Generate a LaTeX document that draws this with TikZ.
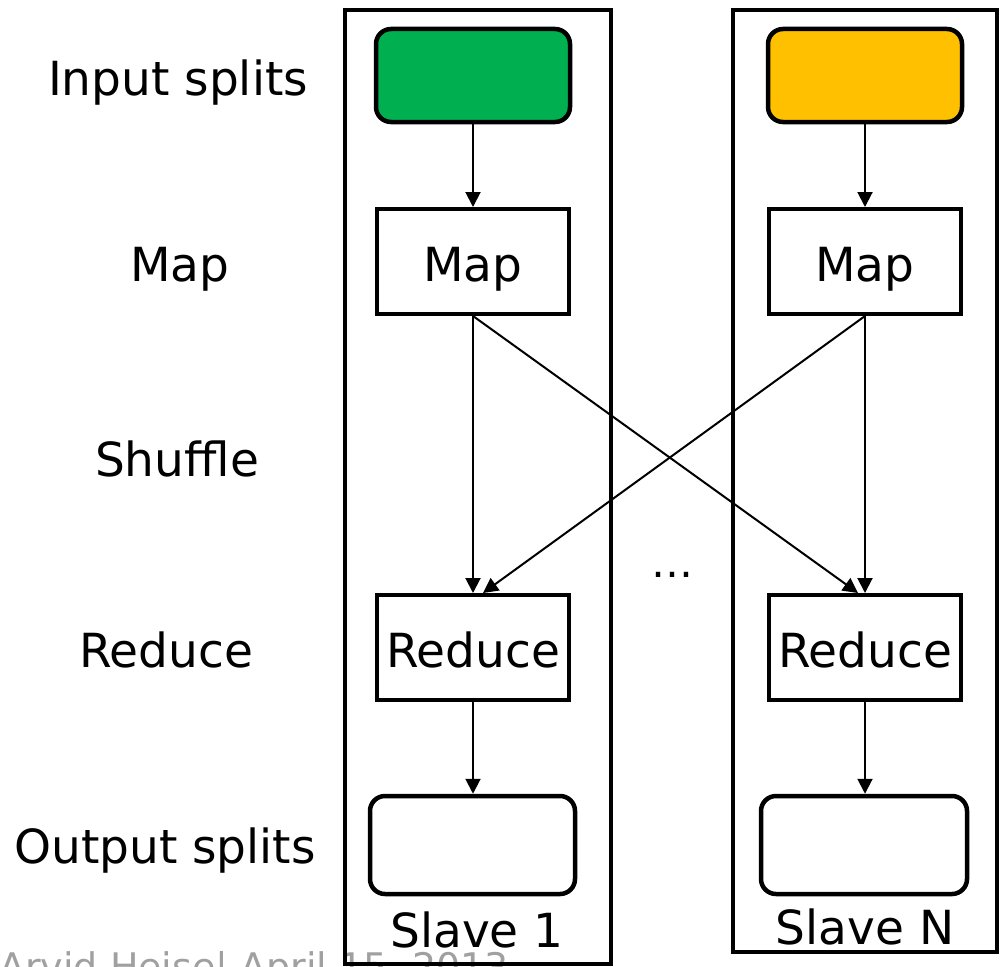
\documentclass[tikz,border=0pt]{standalone}
\usepackage{fontspec}
\setmainfont{DejaVu Sans}
\usetikzlibrary{arrows.meta,calc}

\definecolor{splitgreen}{RGB}{0,176,80}
\definecolor{splityellow}{RGB}{255,192,0}
\definecolor{footergray}{RGB}{160,160,160}

\tikzset{
  big/.style={font=\fontsize{47}{56}\selectfont},
  slavebox/.style={draw, line width=3.5pt, minimum width=266pt, inner sep=0pt},
  splitbox/.style={draw, line width=4.5pt, rounded corners=15pt, inner sep=0pt,
                   minimum width=194pt, minimum height=93pt},
  outbox/.style={draw, line width=4.5pt, rounded corners=15pt, inner sep=0pt,
                 minimum width=205pt, minimum height=98pt},
  taskbox/.style={draw, line width=4pt, inner sep=0pt, big,
                  minimum width=192pt, minimum height=105pt,
                  text height=39pt, text depth=0pt},
  rowlabel/.style={big, anchor=base, inner sep=0pt},
  flow/.style={line width=2pt, -{Triangle[length=15pt,width=15pt]}},
}

\begin{document}
\begin{tikzpicture}[x=1pt,y=-1pt]
  \useasboundingbox (0,0) rectangle (1000,966);
  \fill[white] (0,0) rectangle (1000,966);

  % footer line of the slide, cut by the page edge
  \node[anchor=base west, inner sep=0pt, text=footergray,
        font=\fontsize{38}{44}\selectfont] (footer) at (-1,980) {Arvid Heise| April 15, 2013};

  % row labels
  \node[rowlabel] (lInput)  at (178,95)  {Input splits};
  \node[rowlabel] (lMap)    at (180,281) {Map};
  \node[rowlabel] (lShuf)   at (177,476) {Shuffle};
  \node[rowlabel] (lRed)    at (166,667) {Reduce};
  \node[rowlabel] (lOut)    at (165,863) {Output splits};

  % slave frames
  \node[slavebox, minimum height=954pt] (slave1) at (478,487) {};
  \node[slavebox, minimum height=942pt, minimum width=264pt] (slaveN) at (865,481) {};
  \node[rowlabel] (slave1lbl) at (477,947) {Slave 1};
  \node[rowlabel] (slaveNlbl) at (865,944) {Slave N};

  % slave 1 pipeline
  \node[splitbox, fill=splitgreen] (in1) at (473,75.5) {};
  \node[taskbox] (map1) at (473,261.5) {Map};
  \node[taskbox] (red1) at (473,647.5) {Reduce};
  \node[outbox] (out1) at (472.5,845) {};

  % slave N pipeline
  \node[splitbox, fill=splityellow] (inN) at (865,75.5) {};
  \node[taskbox] (mapN) at (865,261.5) {Map};
  \node[taskbox] (redN) at (865,647.5) {Reduce};
  \node[outbox, minimum width=206pt] (outN) at (864,845) {};

  % ellipsis between the slaves
  \node[anchor=base, inner sep=0pt, font=\fontsize{42}{48}\selectfont] (dots) at (672,577) {…};

  % data flow
  \draw[flow] (in1) -- (map1);
  \draw[flow] (inN) -- (mapN);
  \draw[flow] (map1) -- (red1);
  \draw[flow] (mapN) -- (redN);
  \draw[flow] (map1.south) -- ([xshift=-7pt]redN.north);
  \draw[flow] (mapN.south) -- ([xshift=10pt]red1.north);
  \draw[flow] (red1) -- (out1.north -| red1);
  \draw[flow] (redN) -- (outN.north -| redN);
\end{tikzpicture}
\end{document}
